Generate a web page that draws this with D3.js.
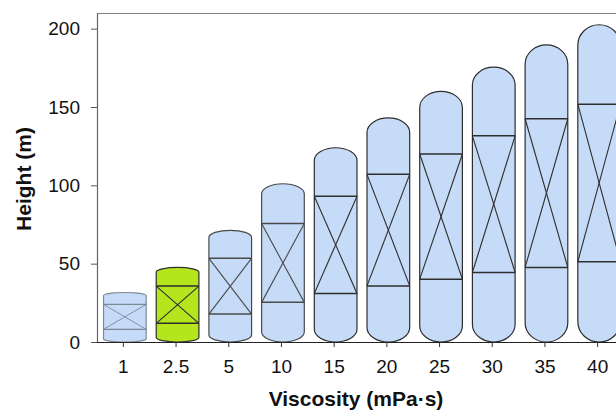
<!DOCTYPE html>
<html><head><meta charset="utf-8">
<script src="https://cdn.jsdelivr.net/npm/d3@7"></script>
<style>
html,body{margin:0;padding:0;background:#fff;overflow:hidden;}
text{font-family:Arial,"Liberation Sans",sans-serif;}
</style></head>
<body>
<svg id="chart" width="616" height="412"></svg>
<script>
const categories = ["1","2.5","5","10","15","20","25","30","35","40"];
const vesselTop = [31.6,47.6,71.3,101,124,143,160,175.4,189.6,202.5];
const packingTop = [24,35.7,53.4,75.6,93,107,120,131.6,142.5,151.8];
const packingBottom = [8.1,11.9,17.8,25.3,31,35.8,40.1,44.4,47.6,51.2];
const highlighted = ["2.5"];
const yTicks = [0,50,100,150,200];

const svg = d3.select("#chart");
const mLeft = 97, mRight = 624, mTop = 13, mBottom = 342;

const x = d3.scaleBand().domain(categories).range([mLeft, mRight]).paddingInner(0.19).paddingOuter(0.095);
const y = d3.scaleLinear().domain([0, 210]).range([mBottom, mTop]);

// top spine
svg.append("line").attr("x1", mLeft).attr("x2", mRight).attr("y1", mTop+0.5).attr("y2", mTop+0.5)
  .attr("stroke", "#808080").attr("stroke-width", 1.2);

const data = categories.map((c,i)=>({c, vt: vesselTop[i], pt: packingTop[i], pb: packingBottom[i], i}));
const shift = 1.5;
const g = svg.append("g");
data.forEach(d => {
  const w = x.bandwidth();
  const x0 = x(d.c) + shift, x1 = x0 + w;
  const yT = y(d.vt), yB = y(0);
  const h = yB - yT;
  const stroke = d.i === 0 ? "#7d8896" : (d.i < 4 && d.i !== 1 ? "#4a4a4a" : "#2e2e2e");
  const fill = highlighted.includes(d.c) ? "#b5e51d" : "#c6dbf7";
  const vg = g.append("g");
  vg.append("rect").attr("x", x0).attr("y", yT).attr("width", w).attr("height", h)
    .attr("rx", w/2).attr("ry", 0.065*h)
    .attr("fill", fill).attr("stroke", stroke).attr("stroke-width", 1.2);
  const lw = d.i === 0 ? 0.9 : 1.1;
  [d.pt, d.pb].forEach(v => {
    vg.append("line").attr("x1", x0).attr("x2", x1).attr("y1", y(v)).attr("y2", y(v))
      .attr("stroke", stroke).attr("stroke-width", lw + 0.4);
  });
  vg.append("line").attr("x1", x0).attr("y1", y(d.pt)).attr("x2", x1).attr("y2", y(d.pb))
    .attr("stroke", stroke).attr("stroke-width", lw);
  vg.append("line").attr("x1", x1).attr("y1", y(d.pt)).attr("x2", x0).attr("y2", y(d.pb))
    .attr("stroke", stroke).attr("stroke-width", lw);
});

// axes
const yAxis = svg.append("g").attr("transform", `translate(${mLeft},0)`)
  .call(d3.axisLeft(y).tickValues(yTicks).tickSize(6).tickPadding(11));
yAxis.select(".domain").attr("stroke", "#666").attr("stroke-width", 1.2).attr("d", `M0.5,${mTop}V${mBottom}`);
yAxis.selectAll(".tick line").attr("stroke", "#555");
yAxis.selectAll("text").attr("font-size", 19).attr("fill", "#111");

const xAxis = svg.append("g").attr("transform", `translate(0,${mBottom})`)
  .call(d3.axisBottom(x).tickSize(5).tickPadding(13));
xAxis.select(".domain").attr("stroke", "#222").attr("stroke-width", 1.2).attr("d", `M${mLeft},0.5H${mRight}`);
xAxis.selectAll(".tick line").attr("stroke", "#333");
xAxis.selectAll("text").attr("font-size", 19).attr("fill", "#111");

svg.append("text").attr("x", 356).attr("y", 406).attr("text-anchor", "middle")
  .attr("font-size", 21).attr("font-weight", "bold").attr("fill", "#111").text("Viscosity (mPa·s)");
svg.append("text").attr("transform", "translate(30.5,179) rotate(-90)").attr("text-anchor", "middle")
  .attr("font-size", 21).attr("font-weight", "bold").attr("fill", "#111").text("Height (m)");
</script>
</body></html>
